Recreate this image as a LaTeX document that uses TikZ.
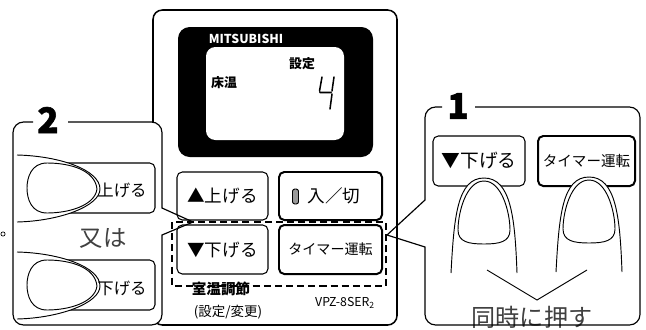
\documentclass[tikz,border=0pt]{standalone}
\usepackage{fontspec}
\setmainfont{Noto Sans CJK JP}
\newfontfamily\stepfont{Noto Sans CJK JP}[BoldFeatures={FakeBold=1.6}]
\usetikzlibrary{positioning}
\tikzset{
  panel/.style = {line width=1pt, rounded corners=9pt},
  btn/.style = {draw, rounded corners=4.5pt, line width=0.9pt, inner sep=0pt,
                font=\fontsize{15}{15}\selectfont},
  hardbtn/.style = {btn, line width=1.7pt},
  lbl/.style = {inner sep=0pt},
  stepno/.style = {inner sep=0pt, font=\stepfont\fontsize{30}{30}\selectfont\bfseries},
  note/.style = {inner sep=0pt, text=black!75, font=\fontsize{20}{20}\selectfont},
  thumb/.pic = {
    \fill[white] (0,-33) .. controls (43,-32) and (83,-18) .. (83,1)
                 .. controls (83,18) and (43,33) .. (0,34) -- cycle;
    \draw[line width=0.8pt] (0,-33) .. controls (43,-32) and (83,-18) .. (83,1)
                 .. controls (83,18) and (43,33) .. (0,34);
    \draw[line width=0.8pt] (80,1) .. controls (78,-18) and (53,-25) .. (30,-25)
                 .. controls (14,-25) and (10,-10) .. (10,0)
                 .. controls (10,12) and (15,25) .. (30,25)
                 .. controls (53,25) and (78,17) .. (80,1);
  },
  finger/.pic = {
    \fill[white] (-33,95) .. controls (-30,40) and (-27,0) .. (0,0)
                 .. controls (27,0) and (31,40) .. (33,95) -- cycle;
    \draw[line width=0.8pt] (-33,95) .. controls (-30,40) and (-27,0) .. (0,0)
                 .. controls (27,0) and (31,40) .. (33,95);
    \draw[line width=0.8pt] (0,3) .. controls (18,3) and (26,35) .. (26,52)
                 .. controls (26,64) and (15,66) .. (0,66)
                 .. controls (-15,66) and (-26,64) .. (-26,52)
                 .. controls (-26,35) and (-18,3) .. (0,3);
  },
}

\begin{document}
\begin{tikzpicture}[x=0.03cm, y=-0.03cm]
\useasboundingbox (0,0) rectangle (646,329);

% remote controller
\draw[line width=1.3pt, rounded corners=8pt] (153,10) rectangle (397,325);
\fill[rounded corners=10pt] (178,27) rectangle (373,157);
\fill[white, rounded corners=8pt] (206,47) rectangle (344,140);
\node[lbl, text=white, font=\bfseries\fontsize{10.5}{10.5}\selectfont] (brand) at (246,39) {MITSUBISHI};
\node[lbl, font=\bfseries\fontsize{11}{11}\selectfont] (floor) at (224,83) {床温};
\node[lbl, font=\bfseries\fontsize{11}{11}\selectfont] (preset) at (302,64) {設定};
\draw[line width=1.3pt, line cap=round] (322,77) -- (319.5,91) (320,92.5) -- (331,92.5)
  (334,77) -- (332,91) (332,94) -- (330,109);

\node[btn, minimum width=2.73cm, minimum height=1.44cm] (up) at (222.5,196) {▲上げる};
\node[hardbtn, minimum width=3.09cm, minimum height=1.44cm] (power) at (330.5,196) {};
\node[draw, fill=black!40, line width=0.8pt, rounded corners=2pt, inner sep=0pt,
      minimum width=0.18cm, minimum height=0.45cm] (lamp) at (295.5,196.5) {};
\node[lbl, font=\fontsize{15}{15}\selectfont] (powertxt) at (334,196) {入／切};
\node[btn, minimum width=2.73cm, minimum height=1.47cm] (down) at (222.5,249.5) {▼下げる};
\node[hardbtn, minimum width=3.09cm, minimum height=1.47cm,
      font=\fontsize{12}{12}\selectfont] (timer) at (330.5,249.5) {タイマー運転};

\draw[line width=1.7pt, dash pattern=on 6pt off 3.5pt] (172,222) rectangle (386,286);
\node[lbl, font=\bfseries\fontsize{12.4}{12.4}\selectfont] (zone) at (221,289) {室温調節};
\node[lbl, font=\fontsize{11.5}{11.5}\selectfont] (zonesub) at (228,312) {(設定/変更)};
\node[lbl, font=\fontsize{10.5}{10.5}\selectfont] (model) at (345,303) {VPZ-8SER\textsubscript{2}};

% step 2
\fill[white, rounded corners=9pt] (13,122) rectangle (162,325);
\node[btn, minimum width=2.85cm, minimum height=1.5cm] (sup) at (107.5,188) {};
\node[btn, minimum width=2.85cm, minimum height=1.5cm] (sdown) at (107.5,285) {};
\pic at (17,188) {thumb};
\pic at (17,285) {thumb};
\node[lbl, font=\fontsize{14}{14}\selectfont] (suptxt) at (122,190) {上げる};
\node[lbl, font=\fontsize{14}{14}\selectfont] (sdowntxt) at (122,288) {下げる};
\node[note] (orlbl) at (103,238) {又は};
\draw[panel] (68,122) -- (162,122) -- (162,190) [sharp corners] -- (162,208) -- (193,222)
  -- (162,235) -- (162,250) [rounded corners=9pt] -- (162,325) -- (13,325) -- (13,122) -- (33,122);
\node[stepno] (two) at (48,120) {2};
\draw[line width=0.6pt] (3,234) circle[radius=1.8pt];

% step 1
\node[btn, minimum width=2.76cm, minimum height=1.5cm,
      font=\fontsize{16}{16}\selectfont] (pdown) at (479,161) {▼下げる};
\node[hardbtn, minimum width=2.91cm, minimum height=1.5cm,
      font=\fontsize{12.4}{12.4}\selectfont] (ptimer) at (586.5,161) {タイマー運転};
\pic at (484,178) {finger};
\pic at (589,177) {finger};
\draw[line width=0.8pt] (487,270) -- (537,300) -- (587,270);
\node[note, font=\fontsize{20.6}{20.6}\selectfont] (together) at (532,317) {同時に押す};
\draw[panel] (475,107) -- (640,107) -- (640,325) -- (425,325) -- (425,262) [sharp corners]
  -- (425,247) -- (387,235) -- (425,200) -- (425,185) [rounded corners=9pt] -- (425,107) -- (442,107);
\node[stepno] (one) at (458,106) {1};
\end{tikzpicture}
\end{document}
